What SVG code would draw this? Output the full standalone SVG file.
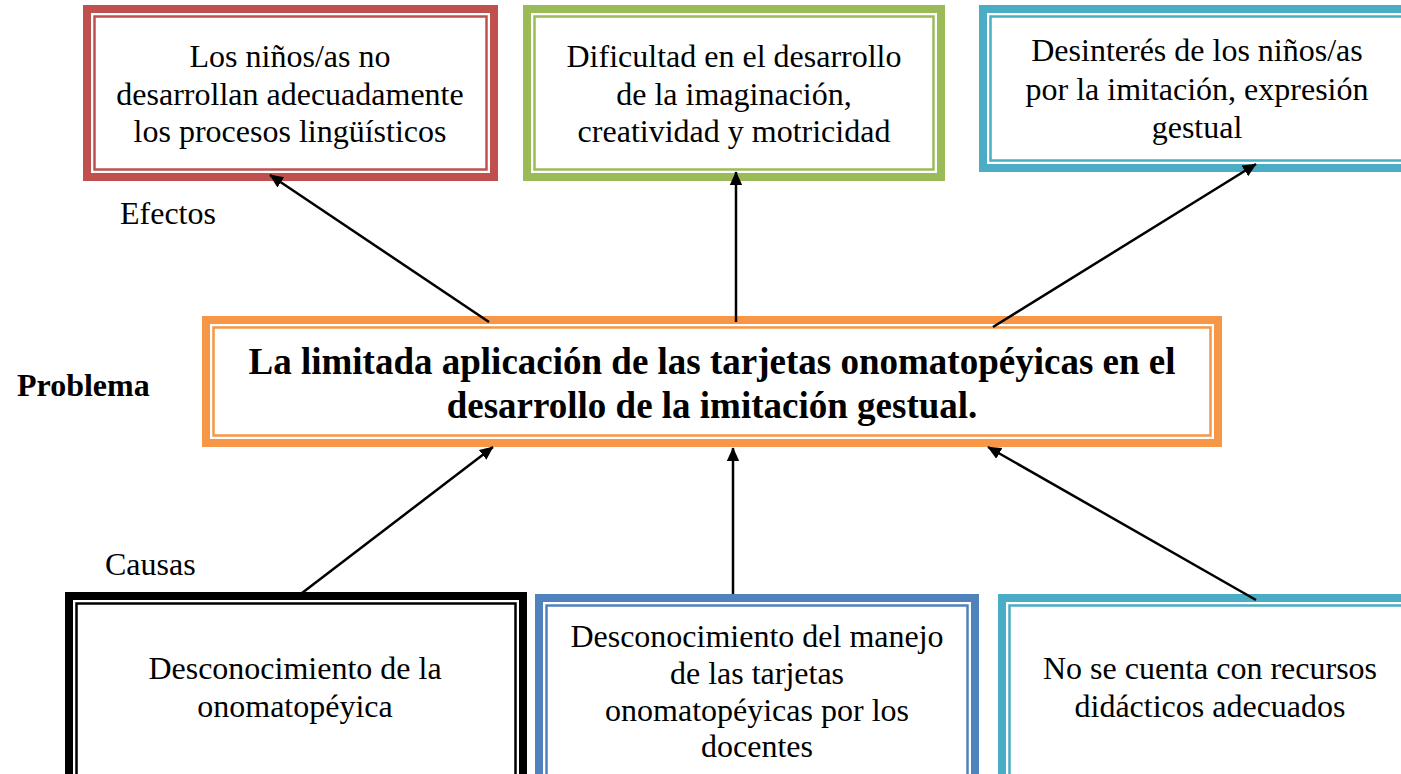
<svg xmlns="http://www.w3.org/2000/svg" width="1401" height="774" viewBox="0 0 1401 774">
<style>
text{font-family:"Liberation Serif","Times New Roman",serif;font-size:32px;fill:#000;text-anchor:middle}
.b{font-weight:bold}
.l{text-anchor:start}
.big{font-size:37px;font-weight:bold}
.o{fill:#fff;stroke-width:8}
.i{fill:none;stroke-width:2.5}
.c{stroke:#000;stroke-width:2.5;fill:none;marker-end:url(#ah)}
</style>
<defs>
<marker id="ah" viewBox="0 0 10 10" refX="9.5" refY="5" markerWidth="5.5" markerHeight="5.5" orient="auto" markerUnits="strokeWidth">
<path d="M0,0.5 L10,5 L0,9.5 Z" fill="#000"/>
</marker>
</defs>
<rect width="1401" height="774" fill="#fff"/>

<g id="efecto1">
<rect class="o" x="87" y="9" width="407" height="168" stroke="#C0504D"/>
<rect class="i" x="94.5" y="16.5" width="392" height="153" stroke="#C0504D"/>
<text x="290" y="67">Los niños/as no</text>
<text x="290" y="105">desarrollan adecuadamente</text>
<text x="290" y="142">los procesos lingüísticos</text>
</g>

<g id="efecto2">
<rect class="o" x="527" y="9" width="414" height="168" stroke="#9BBB59"/>
<rect class="i" x="534.5" y="16.5" width="399" height="153" stroke="#9BBB59"/>
<text x="734" y="67">Dificultad en el desarrollo</text>
<text x="734" y="105">de la imaginación,</text>
<text x="734" y="142">creatividad y motricidad</text>
</g>

<g id="efecto3">
<rect class="o" x="983" y="9" width="440" height="159" stroke="#4BACC6"/>
<rect class="i" x="990.5" y="16.5" width="425" height="144" stroke="#4BACC6"/>
<text x="1197" y="61">Desinterés de los niños/as</text>
<text x="1197" y="100">por la imitación, expresión</text>
<text x="1197" y="138">gestual</text>
</g>

<g id="problema">
<rect class="o" x="206" y="320" width="1012" height="123" stroke="#F79646"/>
<rect class="i" x="213.5" y="327.5" width="997" height="108" stroke="#F79646"/>
<text class="big" x="712" y="374">La limitada aplicación de las tarjetas onomatopéyicas en el</text>
<text class="big" x="712" y="418">desarrollo de la imitación gestual.</text>
</g>

<g id="causa1">
<rect class="o" x="69" y="596" width="454" height="200" stroke="#000"/>
<rect class="i" x="76.5" y="603.5" width="439" height="185" stroke="#000"/>
<text x="295" y="679">Desconocimiento de la</text>
<text x="295" y="717">onomatopéyica</text>
</g>

<g id="causa2">
<rect class="o" x="539" y="598" width="436" height="200" stroke="#4F81BD"/>
<rect class="i" x="546.5" y="605.5" width="421" height="185" stroke="#4F81BD"/>
<text x="757" y="647">Desconocimiento del manejo</text>
<text x="757" y="684">de las tarjetas</text>
<text x="757" y="721">onomatopéyicas por los</text>
<text x="757" y="757">docentes</text>
</g>

<g id="causa3">
<rect class="o" x="1002" y="598" width="440" height="200" stroke="#4BACC6"/>
<rect class="i" x="1009.5" y="605.5" width="425" height="185" stroke="#4BACC6"/>
<text x="1210" y="679">No se cuenta con recursos</text>
<text x="1210" y="717">didácticos adecuados</text>
</g>

<g id="labels">
<text class="l" x="120" y="224">Efectos</text>
<text class="l b" x="17" y="396">Problema</text>
<text class="l" x="105" y="575">Causas</text>
</g>

<g id="connectors">
<line class="c" x1="489" y1="322" x2="270" y2="175"/>
<line class="c" x1="736" y1="322" x2="736" y2="172"/>
<line class="c" x1="993" y1="327" x2="1256" y2="164"/>
<line class="c" x1="302" y1="593" x2="493" y2="447"/>
<line class="c" x1="733" y1="594" x2="733" y2="448"/>
<line class="c" x1="1256" y1="600" x2="988" y2="447"/>
</g>
</svg>
